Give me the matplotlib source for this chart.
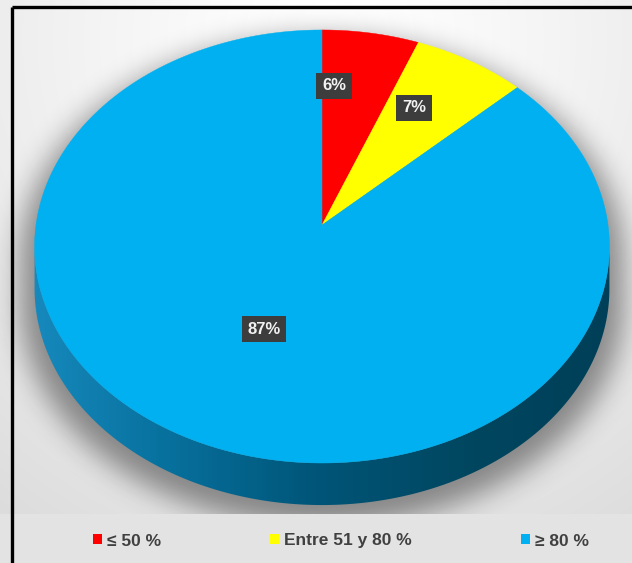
import numpy as np
import matplotlib.pyplot as plt
from matplotlib.patches import Polygon, Rectangle
from matplotlib.path import Path
from matplotlib.colors import LinearSegmentedColormap

plt.rcParams['font.family'] = ['Liberation Sans', 'DejaVu Sans']

# ---- data
categories = ["≤ 50 %", "Entre 51 y 80 %", "≥ 80 %"]
shares = [6, 7, 87]
colors = ["#ff0000", "#ffff00", "#00b0f0"]

# ---- layout (pixel space)
W, H = 632, 563
CX, CY = 322, 225          # projected pie centre
RX, RY = 286, 214.4        # radii of the tilted disc
K = -0.0993                # perspective factor
DEPTH = 42                 # thickness of the 3-D side
label_pos = [(334, 86), (414, 108), (264, 329)]


def project(theta, r=1.0):
    X = r * np.cos(theta)
    Y = -r * np.sin(theta)
    d = 1 + K * Y
    return CX + RX * X / d, CY + RY * Y / d


fig = plt.figure(figsize=(W / 100, H / 100), dpi=100)
ax = fig.add_axes([0, 0, 1, 1])
ax.set_xlim(0, W)
ax.set_ylim(H, 0)
ax.axis("off")

# ---- background: soft radial gradient + legend band
yy, xx = np.mgrid[0:H, 0:W] + 0.5
dist = np.hypot(xx - 330, (yy - 40) / 1.05)
bg = 1 - 0.15 * np.clip(dist / 600, 0, 1) ** 1.3
bg_rgb = np.dstack([bg, bg, bg])
ax.imshow(bg_rgb, extent=[0, W, H, 0], zorder=0, interpolation="bilinear")
ax.add_patch(Rectangle((0, 514), W, H - 514, fc="#e3e3e3", ec="none", zorder=2.5))

# ---- silhouette of the disc (top far rim + bottom near rim)
a_r = np.arcsin(-K)                     # angle where rim is widest
far = np.linspace(-a_r, np.pi + a_r, 300)
near = np.linspace(np.pi + a_r, 2 * np.pi - a_r, 300)
fx, fy = project(far)
nx, ny = project(near)
sil = np.column_stack([np.r_[fx, nx], np.r_[fy, ny + DEPTH]])

# ---- shadow: blurred, slightly enlarged silhouette
cx0, cy0 = sil[:, 0].mean(), sil[:, 1].mean()
sh = sil.copy()
sh[:, 0] = cx0 + (sh[:, 0] - cx0) * 1.05
sh[:, 1] = cy0 + (sh[:, 1] - cy0) * 1.03 + 14
mask = Path(sh).contains_points(np.column_stack([xx.ravel(), yy.ravel()]))
mask = mask.reshape(H, W).astype(float)
sig = 14
kx = np.arange(-3 * sig, 3 * sig + 1)
kern = np.exp(-kx ** 2 / (2 * sig ** 2))
kern /= kern.sum()
mask = np.apply_along_axis(lambda r: np.convolve(r, kern, mode="same"), 1, mask)
mask = np.apply_along_axis(lambda c: np.convolve(c, kern, mode="same"), 0, mask)
shadow = np.zeros((H, W, 4))
shadow[..., 3] = 0.42 * mask
ax.imshow(shadow, extent=[0, W, H, 0], zorder=2, interpolation="bilinear")

# ---- side wall with horizontal shading
side_pts = np.column_stack([np.r_[nx, nx[::-1]], np.r_[ny, ny[::-1] + DEPTH]])
side = Polygon(side_pts, closed=True, fc="none", ec="none", zorder=3)
ax.add_patch(side)
side_cmap = LinearSegmentedColormap.from_list(
    "side", ["#1a8fc4", "#08729f", "#005578", "#00465f", "#003e57"])
grad = np.tile(np.linspace(0, 1, W), (H, 1))
im = ax.imshow(grad, extent=[0, W, H, 0], cmap=side_cmap, zorder=3,
               interpolation="bilinear")
im.set_clip_path(side)

# ---- top face wedges (clockwise from 12 o'clock)
bounds = np.r_[0, np.cumsum(shares)] / np.sum(shares)
for i, col in enumerate(colors):
    t = np.linspace(np.pi / 2 - 2 * np.pi * bounds[i],
                    np.pi / 2 - 2 * np.pi * bounds[i + 1], 200)
    px, py = project(t)
    pts = np.column_stack([np.r_[CX, px], np.r_[CY, py]])
    ax.add_patch(Polygon(pts, closed=True, fc=col, ec=col, lw=0.3, zorder=4))

# ---- data labels
for v, (lx, ly) in zip(shares, label_pos):
    ax.text(lx, ly, f"{v}%", ha="center", va="center", color="#f2f2f2",
            fontsize=12, fontweight="bold", zorder=6,
            bbox=dict(boxstyle="square,pad=0.35", fc="#3d3d3d", ec="none"))

# ---- chart frame (only top and left edges inside the crop)
ax.plot([12, W], [7, 7], color="black", lw=2.4, zorder=7, solid_capstyle="butt")
ax.plot([12, 12], [7, H], color="black", lw=2.4, zorder=7, solid_capstyle="butt")

# ---- legend
handles = [Rectangle((0, 0), 1, 1, fc=c, ec="none") for c in colors]
fig.legend(handles, categories, loc="center", ncol=3,
           bbox_to_anchor=(341 / W, 1 - 541 / H), frameon=False,
           labelcolor="#404040", prop={"weight": "bold", "size": 12.5},
           handlelength=0.5, handleheight=0.5, handletextpad=0.3,
           columnspacing=6.3)

fig.savefig("out.png", dpi=100)
